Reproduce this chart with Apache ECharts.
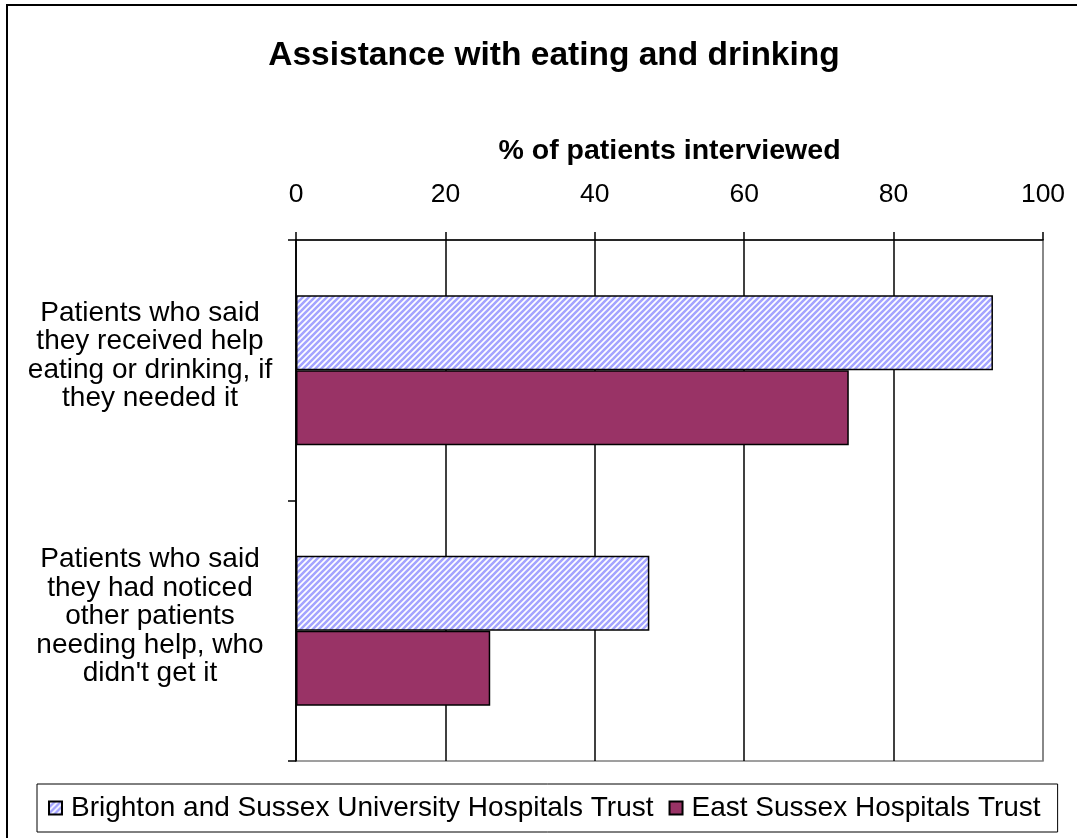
<!DOCTYPE html>
<html>
<head>
<meta charset="utf-8">
<script src="https://cdn.jsdelivr.net/npm/echarts@6/dist/echarts.min.js"></script>
<style>
html,body{margin:0;padding:0;background:#fff;}
#chart{width:1077px;height:838px;}
</style>
</head>
<body>
<div id="chart"></div>
<script>
const categories = [
  "Patients who said\nthey received help\neating or drinking, if\nthey needed it",
  "Patients who said\nthey had noticed\nother patients\nneeding help, who\ndidn't get it"
];
const seriesNames = ["Brighton and Sussex University Hospitals Trust", "East Sussex Hospitals Trust"];
const brightonValues = [93.3, 47.3];
const eastSussexValues = [74, 26];
const xTicks = [0, 20, 40, 60, 80, 100];

function makeStripe() {
  const c = document.createElement('canvas');
  const s = 6;
  c.width = s; c.height = s;
  const ctx = c.getContext('2d');
  ctx.fillStyle = '#ffffff';
  ctx.fillRect(0, 0, s, s);
  ctx.strokeStyle = '#a4a4ff';
  ctx.lineWidth = 2.6;
  ctx.beginPath();
  for (let k = -1; k <= 1; k++) {
    ctx.moveTo(k * s - 1, s + 1);
    ctx.lineTo(k * s + s + 1, -1);
  }
  ctx.stroke();
  return c;
}
const stripe = makeStripe();

const chart = echarts.init(document.getElementById('chart'), null, {renderer: 'canvas'});
const font = '"Liberation Sans", Arial, sans-serif';
chart.setOption({
  animation: false,
  backgroundColor: '#ffffff',
  title: {
    text: 'Assistance with eating and drinking',
    left: 549, top: 34, textAlign: 'center',
    textStyle: {fontFamily: font, fontSize: 33.5, fontWeight: 'bold', color: '#000'}
  },
  grid: {left: 296, right: 34, top: 240, bottom: 77, show: true, borderColor: '#808080', borderWidth: 1.5, containLabel: false},
  legend: {
    data: seriesNames,
    left: 37, top: 784,
    padding: [10, 17, 10, 11],
    borderColor: '#000', borderWidth: 1,
    itemWidth: 13, itemHeight: 13, itemGap: 15,
    icon: 'rect',
    textStyle: {fontFamily: font, fontSize: 28, color: '#000', padding: [0, 0, 0, 4]}
  },
  xAxis: {
    type: 'value', position: 'top', min: 0, max: 100, interval: 20,
    name: '% of patients interviewed', nameLocation: 'middle', nameGap: 74,
    nameTextStyle: {fontFamily: font, fontSize: 28.5, fontWeight: 'bold', color: '#000'},
    axisLine: {show: true, lineStyle: {color: '#000', width: 1.5}},
    axisTick: {show: true, inside: false, length: 8, lineStyle: {color: '#000', width: 1.5}},
    axisLabel: {fontFamily: font, fontSize: 26.5, color: '#000', margin: 32,
      formatter: v => xTicks.indexOf(v) >= 0 ? String(v) : ''},
    splitLine: {show: true, lineStyle: {color: ['#000', '#000', '#000', '#000', '#000', '#808080'], width: 1.5}}
  },
  yAxis: {
    type: 'category', data: categories, inverse: true,
    axisLine: {show: true, lineStyle: {color: '#000', width: 1.5}},
    axisTick: {show: true, inside: false, length: 8, lineStyle: {color: '#000', width: 1.5}},
    axisLabel: {fontFamily: font, fontSize: 28, color: '#000', align: 'center', margin: 146,
      lineHeight: 28.5, formatter: v => v + '\n '},
    splitLine: {show: false}
  },
  series: [
    {
      name: seriesNames[0], type: 'bar', data: brightonValues, barWidth: 75, barGap: '0%',
      itemStyle: {color: {image: stripe, repeat: 'repeat'}, borderColor: '#000', borderWidth: 1.5}
    },
    {
      name: seriesNames[1], type: 'bar', data: eastSussexValues, barWidth: 75, barGap: '0%',
      itemStyle: {color: '#993366', borderColor: '#000', borderWidth: 1.5}
    }
  ],
  graphic: [
    {type: 'rect', silent: true, z: 100, shape: {x: 7, y: 5, width: 1100, height: 900},
     style: {fill: null, stroke: '#000', lineWidth: 2}}
  ]
});
</script>
</body>
</html>
